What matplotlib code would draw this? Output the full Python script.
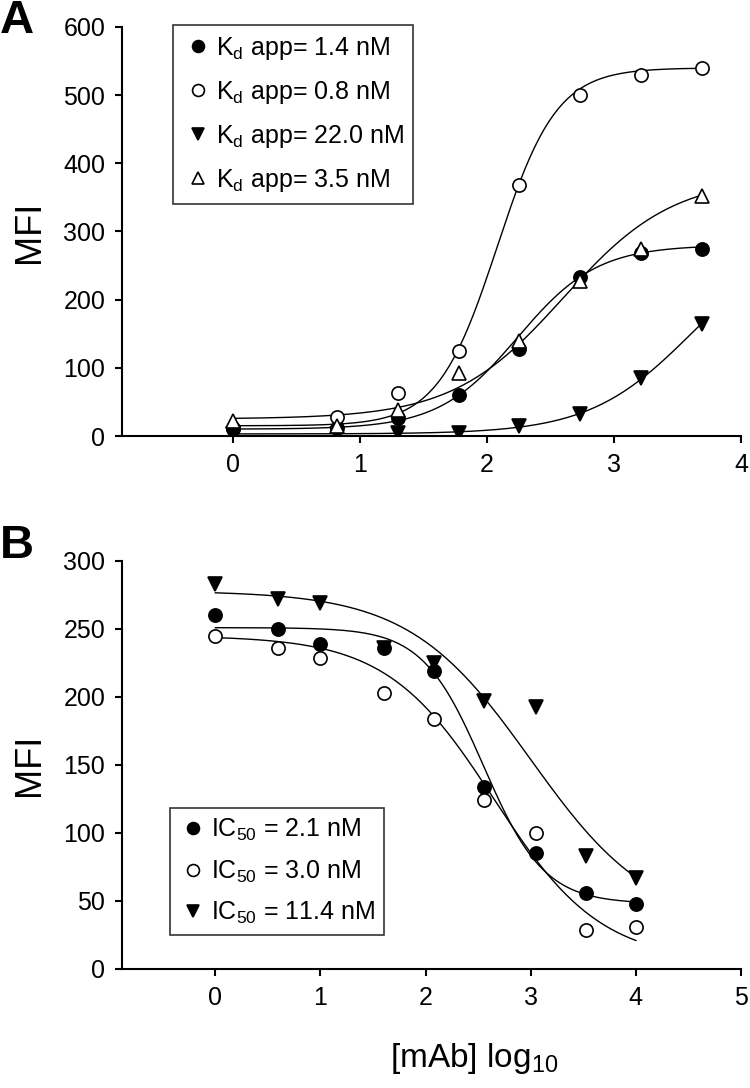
import numpy as np
import matplotlib
matplotlib.use("Agg")
import matplotlib.pyplot as plt

plt.rcParams['font.family'] = ['Liberation Sans', 'DejaVu Sans']
plt.rcParams['mathtext.fontset'] = 'custom'
plt.rcParams['mathtext.rm'] = 'Liberation Sans'

# ---- panel A: binding (x = log10 conc) ----
xa = [0, 0.82, 1.30, 1.78, 2.25, 2.73, 3.21, 3.69]
a_fill_circ = [10, 12, 27, 60, 128, 233, 268, 275]
a_open_circ = [12, 28, 63, 124, 368, 500, 530, 540]
a_fill_tri = [3, 3, 5, 5, 15, 33, 85, 165]
a_open_tri = [22, 15, 38, 92, 140, 228, 275, 352]
a_labels = ['K$_\\mathregular{d}$ app= 1.4 nM', 'K$_\\mathregular{d}$ app= 0.8 nM',
            'K$_\\mathregular{d}$ app= 22.0 nM', 'K$_\\mathregular{d}$ app= 3.5 nM']
# fitted sigmoid params: bottom, top, x50, hill
a_fits = [[10, 280, 2.243, 1.39],
          [15, 540, 2.08, 1.85],
          [3, 300, 3.616, 1.07],
          [25, 380, 2.6, 1.0]]

# ---- panel B: inhibition ----
xb = [0, 0.6, 1.0, 1.6, 2.08, 2.56, 3.05, 3.53, 4.0]
b_fill_circ = [260, 250, 239, 236, 219, 134, 85, 56, 48]
b_open_circ = [245, 236, 229, 203, 184, 124, 100, 29, 31]
b_fill_tri = [283, 272, 269, 236, 225, 197, 193, 83, 67]
b_labels = ['IC$_\\mathregular{50}$ = 2.1 nM', 'IC$_\\mathregular{50}$ = 3.0 nM',
            'IC$_\\mathregular{50}$ = 11.4 nM']
b_fits = [[48, 251, 2.55, 1.5],
          [5, 245, 2.65, 0.85],
          [30, 278, 3.0, 0.75]]

W, H = 750, 1088


def sig(x, p):
    b, t, c, h = p
    return b + (t - b) / (1 + 10 ** ((c - x) * h))


def style(ax):
    for s in ['top', 'right']:
        ax.spines[s].set_visible(False)
    for s in ['left', 'bottom']:
        ax.spines[s].set_linewidth(1.5)
    ax.tick_params(direction='out', length=5, width=1.5, labelsize=18, pad=7)
    ax.set_ylabel('MFI', fontsize=26, labelpad=12)


def pts(ax, x, y, m, fill):
    return ax.plot(x, y, linestyle='none', marker=m, markersize=9.5,
                   markerfacecolor='black' if fill else 'white',
                   markeredgecolor='black', markeredgewidth=1.2, zorder=3)[0]


fig = plt.figure(figsize=(W / 100, H / 100), dpi=100)

# panel A
axa = fig.add_axes([122 / W, 1 - 436 / H, 619 / W, 409 / H])
style(axa)
xs = np.linspace(xa[0], xa[-1], 200)
for p in a_fits:
    axa.plot(xs, sig(xs, p), color='black', lw=1.0, zorder=2)
ha = [pts(axa, xa, a_fill_circ, 'o', True),
      pts(axa, xa, a_open_circ, 'o', False),
      pts(axa, xa, a_fill_tri, 'v', True),
      pts(axa, xa, a_open_tri, '^', False)]
axa.set_xlim(-0.874, 4)
axa.set_ylim(0, 600)
axa.set_xticks(range(0, 5))
axa.set_yticks(range(0, 601, 100))
la = axa.legend(ha, a_labels, loc='upper left', bbox_to_anchor=(0.0824, 1.005),
                borderaxespad=0, fontsize=18, frameon=True, fancybox=False,
                edgecolor='black', labelspacing=0.68, handletextpad=0.1,
                handlelength=1.2, markerscale=0.9, borderpad=0.4)
la.get_frame().set_linewidth(1.2)

# panel B
axb = fig.add_axes([122 / W, 1 - 969 / H, 619 / W, 408 / H])
style(axb)
xs = np.linspace(xb[0], xb[-1], 200)
for p in b_fits:
    axb.plot(xs, sig(xs, [p[0], p[1], p[2], -p[3]]), color='black', lw=1.0, zorder=2)
hb = [pts(axb, xb, b_fill_circ, 'o', True),
      pts(axb, xb, b_open_circ, 'o', False),
      pts(axb, xb, b_fill_tri, 'v', True)]
axb.set_xlim(-0.888, 5)
axb.set_ylim(0, 300)
axb.set_xticks(range(0, 6))
axb.set_yticks(range(0, 301, 50))
lb = axb.legend(hb, b_labels, loc='lower left', bbox_to_anchor=(0.077, 0.083),
                borderaxespad=0, fontsize=18, frameon=True, fancybox=False,
                edgecolor='black', labelspacing=0.62, handletextpad=0.1,
                handlelength=1.2, markerscale=0.9, borderpad=0.35)
lb.get_frame().set_linewidth(1.2)

fig.text(474 / W, 1 - 1058 / H, '[mAb] log$_\\mathregular{10}$', fontsize=24,
         ha='center', va='center')
fig.text(0, 1 - 21 / H, 'A', fontsize=34, fontweight='bold', va='center')
fig.text(0, 1 - 546 / H, 'B', fontsize=34, fontweight='bold', va='center')

fig.savefig('out.png', dpi=100)
